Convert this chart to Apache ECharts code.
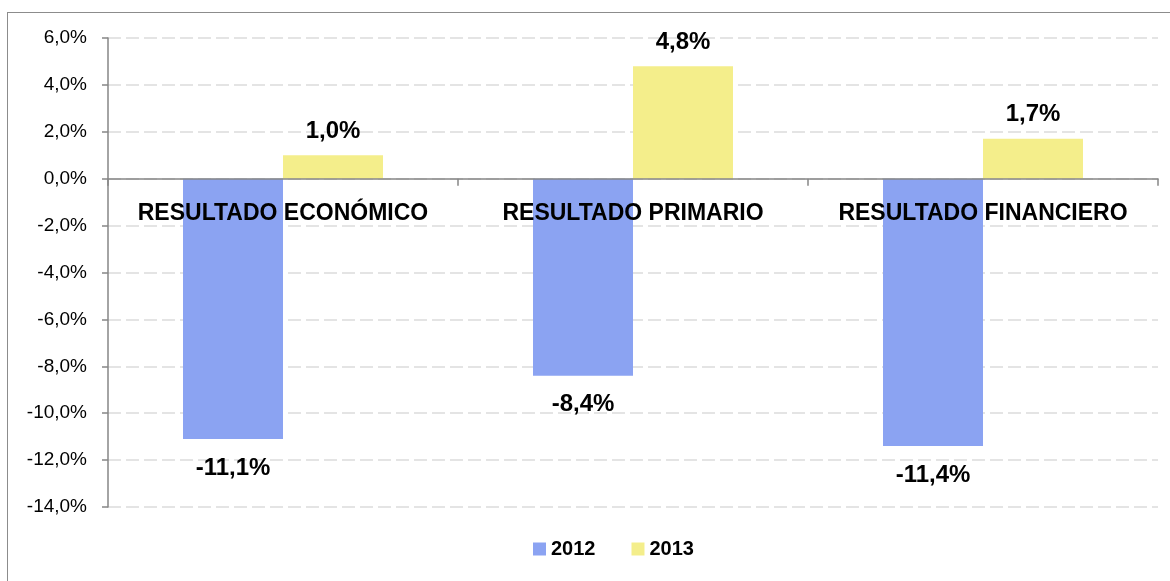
<!DOCTYPE html>
<html>
<head>
<meta charset="utf-8">
<script src="https://cdn.jsdelivr.net/npm/echarts@6/dist/echarts.min.js"></script>
<style>
  html, body { margin: 0; padding: 0; background: #fff; }
  #frame { position: absolute; left: 7px; top: 12px; width: 1180px; height: 600px; border: 1px solid #8c8c8c; box-sizing: border-box; }
  #chart { position: absolute; left: 0; top: 0; width: 1170px; height: 581px; }
</style>
</head>
<body>
<div id="frame"></div>
<div id="chart"></div>
<script>
  // categorías y valores (%)
  const categories = ['RESULTADO ECONÓMICO', 'RESULTADO PRIMARIO', 'RESULTADO FINANCIERO']
  const years = ['2012', '2013']
  const values2012 = [-11.1, -8.4, -11.4]
  const values2013 = [1.0, 4.8, 1.7]
  const yMin = -14
  const yMax = 6

  const fmt = v => v.toFixed(1).replace('.', ',') + '%'
  const font = 'Liberation Sans, Arial, sans-serif'

  const gridTop = 38
  const gridBottom = 74
  const gridHeight = 581 - gridTop - gridBottom
  // eje de categorías sobre la línea del 0
  const zeroOffset = gridHeight * (0 - yMin) / (yMax - yMin)

  const chart = echarts.init(document.getElementById('chart'))
  chart.setOption({
    animation: false,
    textStyle: { fontFamily: font },
    grid: { left: 108, right: 12, top: gridTop, bottom: gridBottom, containLabel: false },
    legend: {
      data: years,
      bottom: 17,
      left: 528,
      itemWidth: 13,
      itemHeight: 13,
      itemGap: 36,
      icon: 'rect',
      textStyle: { fontSize: 20, fontWeight: 'bold', color: '#000', fontFamily: font }
    },
    xAxis: {
      type: 'category',
      data: categories,
      position: 'bottom',
      offset: -zeroOffset,
      z: 10,
      axisLine: { onZero: false, lineStyle: { color: '#868686', width: 1.5 } },
      axisTick: { show: true, length: 7, lineStyle: { color: '#868686', width: 1.5 } },
      axisLabel: { margin: 23, fontSize: 23, fontWeight: 'bold', color: '#000', fontFamily: font, interval: 0 }
    },
    yAxis: {
      type: 'value',
      min: yMin,
      max: yMax,
      interval: 2,
      axisLine: { show: true, lineStyle: { color: '#868686', width: 1.5 } },
      axisTick: { show: true, length: 6, lineStyle: { color: '#868686', width: 1.5 } },
      axisLabel: { formatter: fmt, fontSize: 19, color: '#000', margin: 21, fontFamily: font },
      splitLine: { lineStyle: { color: '#dcdcdc', width: 1.5, type: [13, 5] } }
    },
    series: [
      {
        name: years[0],
        type: 'bar',
        data: values2012,
        barWidth: 100,
        barGap: 0,
        itemStyle: { color: '#8ba3f2' },
        label: {
          show: true, position: 'outside', distance: 17,
          formatter: p => fmt(p.value),
          fontSize: 24, fontWeight: 'bold', color: '#000', fontFamily: font
        }
      },
      {
        name: years[1],
        type: 'bar',
        data: values2013,
        barWidth: 100,
        barGap: 0,
        itemStyle: { color: '#f4ee8b' },
        label: {
          show: true, position: 'outside', distance: 12,
          formatter: p => fmt(p.value),
          fontSize: 24, fontWeight: 'bold', color: '#000', fontFamily: font
        }
      }
    ]
  })
</script>
</body>
</html>
